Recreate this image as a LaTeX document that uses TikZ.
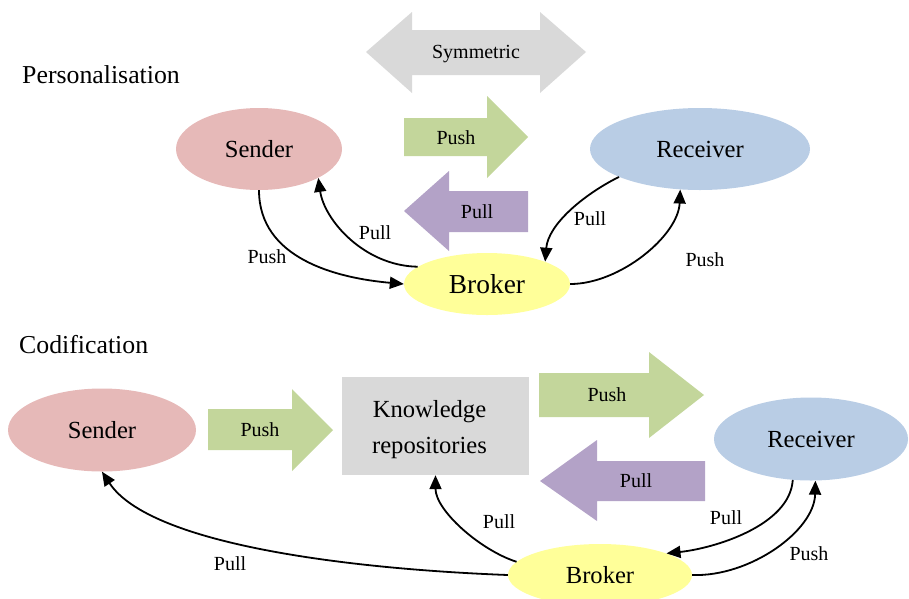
\documentclass[tikz,border=0pt]{standalone}
\usepackage{fontspec}
\setmainfont{Liberation Serif}
\usetikzlibrary{shapes.geometric,arrows.meta}
\definecolor{cgray}{HTML}{D9D9D9}
\definecolor{cpink}{HTML}{E6B9B8}
\definecolor{cgreen}{HTML}{C3D69B}
\definecolor{cpurple}{HTML}{B3A2C7}
\definecolor{cblue}{HTML}{B9CDE5}
\definecolor{cyellow}{HTML}{FFFF99}
\begin{document}
\begin{tikzpicture}[x=1pt,y=1pt,
  titlefont/.style={inner sep=0pt,text height=17.5pt,text depth=0pt,font=\fontsize{25.8}{30}\selectfont},
  bigfont/.style={font=\fontsize{24.6}{36}\selectfont},
  smallfont/.style={inner sep=0pt,text height=13.6pt,text depth=0pt,font=\fontsize{20}{24}\selectfont},
  oval/.style={ellipse,inner sep=0pt,text height=16.7pt,text depth=0pt,bigfont},
  conn/.style={line width=1.8pt,-{Triangle[length=14pt,width=12pt]}}]
\useasboundingbox (0,0) rectangle (909,-598);

% ---------- Personalisation ----------
\node[titlefont,anchor=west] (t1) at (22,-75) {Personalisation};

\fill[cgray] (366,-52) -- (412,-12) -- (412,-30) -- (540,-30) -- (540,-12) -- (586,-52)
  -- (540,-93) -- (540,-75) -- (412,-75) -- (412,-93) -- cycle;
\node[smallfont] (sym) at (476,-52) {Symmetric};

\fill[cgreen] (404,-118) -- (487,-118) -- (487,-96) -- (528,-137) -- (487,-178) -- (487,-156) -- (404,-156) -- cycle;
\node[smallfont] (p1push) at (456,-138) {Push};

\fill[cpurple] (528,-191) -- (449,-191) -- (449,-171) -- (404,-211) -- (449,-251) -- (449,-232) -- (528,-232) -- cycle;
\node[smallfont] (p1pull) at (477,-212) {Pull};

\node[oval,fill=cpink,minimum width=166pt,minimum height=82pt] (s1) at (259,-149) {Sender};
\node[oval,fill=cblue,minimum width=220pt,minimum height=82pt] (r1) at (700,-149) {Receiver};
\node[oval,fill=cyellow,minimum width=166pt,minimum height=62pt,text height=18.6pt,font=\fontsize{27.4}{32}\selectfont] (b1) at (487,-284) {Broker};

\draw[conn] (s1.south) .. controls +(0,-68) and +(-68,6) .. (b1.west);
\draw[conn] (b1.166) .. controls +(-54,1) and +(6,-42) .. (s1.-26);
\draw[conn] (r1.199) .. controls +(-36,-18) and +(3,37) .. (b1.21);
\draw[conn] (b1.east) .. controls +(50,0) and +(-2,-46) .. (r1.-116);

\node[smallfont] (l1) at (267,-257) {Push};
\node[smallfont] (l2) at (375,-233) {Pull};
\node[smallfont] (l3) at (590,-219) {Pull};
\node[smallfont] (l4) at (705,-260) {Push};

% ---------- Codification ----------
\node[titlefont,anchor=west] (t2) at (19,-345) {Codification};

\node[oval,fill=cpink,minimum width=188pt,minimum height=83pt] (s2) at (102,-430) {Sender};
\node[oval,fill=cblue,minimum width=194pt,minimum height=83pt] (r2) at (811,-439) {Receiver};
\node[oval,fill=cyellow,minimum width=184pt,minimum height=62pt] (b2) at (600,-575) {Broker};

\fill[cgreen] (208,-409) -- (292,-409) -- (292,-389) -- (333,-430) -- (292,-471) -- (292,-450) -- (208,-450) -- cycle;
\node[smallfont] (c1push) at (260,-430) {Push};

\node[fill=cgray,minimum width=187pt,minimum height=98pt,inner sep=0pt,
  label={[bigfont,align=center,yshift=-4pt,xshift=-6pt]center:Knowledge\\repositories}] (kr) at (435.5,-426) {};

\fill[cgreen] (539,-373) -- (649,-373) -- (649,-352) -- (704,-395) -- (649,-438) -- (649,-417) -- (539,-417) -- cycle;
\node[smallfont] (c2push) at (607,-395) {Push};

\fill[cpurple] (705,-461) -- (597,-461) -- (597,-440) -- (540,-481) -- (597,-521) -- (597,-501) -- (705,-501) -- cycle;
\node[smallfont] (c2pull) at (636,-481) {Pull};

\draw[conn] (b2.west) .. controls +(-158,6) and +(48,-73) .. (s2.south);
\draw[conn] (b2.171) .. controls +(-37,12) and +(0,-35) .. (kr.south);
\draw[conn] (r2.-114) .. controls +(-3,-46) and +(47,5) .. (b2.18);
\draw[conn] (b2.east) .. controls +(58,-2) and +(-1,-50) .. (r2.-84);

\node[smallfont] (l5) at (230,-564) {Pull};
\node[smallfont] (l6) at (499,-522) {Pull};
\node[smallfont] (l7) at (726,-518) {Pull};
\node[smallfont] (l8) at (809,-554) {Push};
\end{tikzpicture}
\end{document}
